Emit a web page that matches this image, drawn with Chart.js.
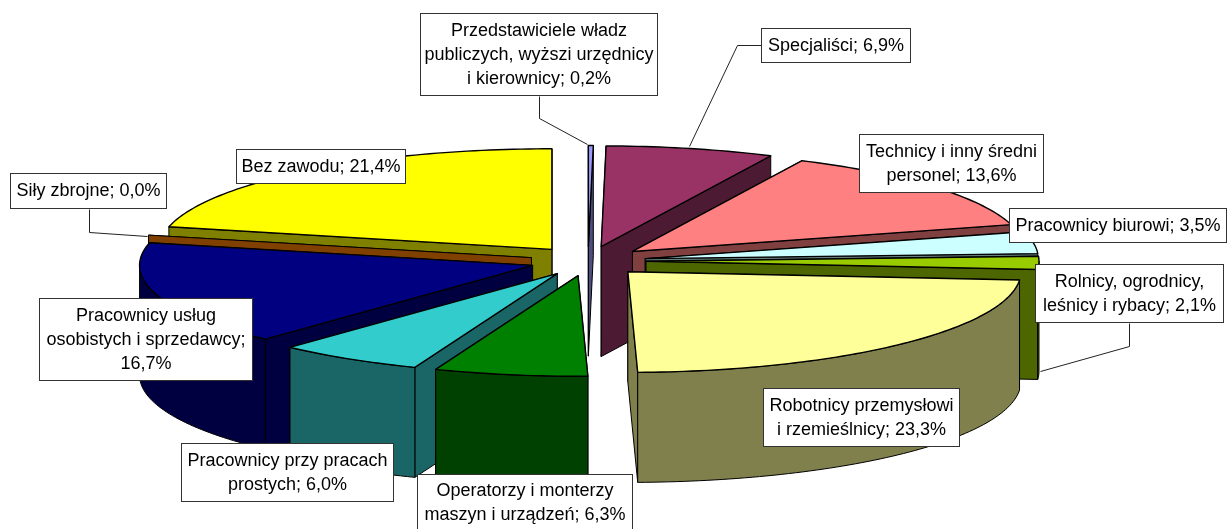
<!DOCTYPE html>
<html><head><meta charset="utf-8">
<style>html,body{margin:0;padding:0;background:#fff;overflow:hidden}canvas{display:block}</style>
<script src="https://cdn.jsdelivr.net/npm/chart.js@4/dist/chart.umd.min.js"></script>
</head><body>
<canvas id="c" width="1227" height="529"></canvas>
<script>
const categories = ["Przedstawiciele władz publicznych, wyżsi urzędnicy i kierownicy","Specjaliści","Technicy i inny średni personel","Pracownicy biurowi","Rolnicy, ogrodnicy, leśnicy i rybacy","Robotnicy przemysłowi i rzemieślnicy","Operatorzy i monterzy maszyn i urządzeń","Pracownicy przy pracach prostych","Pracownicy usług osobistych i sprzedawcy","Siły zbrojne","Bez zawodu"];
const values = [0.2,6.9,13.6,3.5,2.1,23.3,6.3,6.0,16.7,0.0,21.4];
const topColors = ["#9999FF","#993366","#FF8080","#CCFFFF","#99CC00","#FFFF99","#008000","#33CCCC","#000080","#FF8000","#FFFF00"];
const wallColors = ["#4D4D80","#4D1A33","#804040","#668080","#4D6600","#80804D","#004000","#1A6666","#000040","#804000","#808000"];
const labelLines = [
 ["Przedstawiciele władz","publiczych, wyższi urzędnicy","i kierownicy; 0,2%"],
 ["Specjaliści; 6,9%"],
 ["Technicy i inny średni","personel; 13,6%"],
 ["Pracownicy biurowi; 3,5%"],
 ["Rolnicy, ogrodnicy,","leśnicy i rybacy; 2,1%"],
 ["Robotnicy przemysłowi","i rzemieślnicy; 23,3%"],
 ["Operatorzy i monterzy","maszyn i urządzeń; 6,3%"],
 ["Pracownicy przy pracach","prostych; 6,0%"],
 ["Pracownicy usług","osobistych i sprzedawcy;","16,7%"],
 ["Siły zbrojne; 0,0%"],
 ["Bez zawodu; 21,4%"]
];
// label box: left, top, right, bottom
const labelBoxes = [[420,13,658,96],[761,28,911,63],[859,134,1044,193],[1009,208,1227,243],[1035,264,1224,323],[763,388,960,447],[417,474,633,532],[181,443,394,502],[39,298,253,381],[10,173,167,209],[236,149,406,184]];
const leaders = [[[539,96],[539,118],[587,144]],[[761,45],[737,45],[689,146]],[[1129,323],[1129,346],[1040,371]],[[89,209],[89,232],[147,236]]];
const SQUASH = 0.256, DEPTH = 110, RADIUS = 393, EXPLODE = 58;

function centre(chart){const c=chart.chartArea;return [(c.left+c.right)/2,(c.top+c.bottom)/2];}
function geom(chart,arc){
  const [cx,cy]=centre(chart);
  const mid=(arc.startAngle+arc.endAngle)/2;
  const ax = arc.x, ay = cy+(arc.y-cy)*SQUASH, R = arc.outerRadius;
  return {mid, ax, ay, pt:a=>[ax+R*Math.cos(a), ay+R*SQUASH*Math.sin(a)]};
}
function poly(ctx,pts,fill){
  ctx.beginPath();pts.forEach((p,i)=>i?ctx.lineTo(p[0],p[1]):ctx.moveTo(p[0],p[1]));ctx.closePath();
  if(fill){ctx.fillStyle=fill;ctx.fill();}
  ctx.stroke();
}
function arcPts(g,s,e){const n=Math.max(2,Math.ceil((e-s)/0.02));const r=[];for(let i=0;i<=n;i++)r.push(g.pt(s+(e-s)*i/n));return r;}
const pie3d = {
  id:'pie3d',
  afterDatasetsUpdate(chart){
    // explode each slice by moving its arc element along its own mid-angle
    chart.getDatasetMeta(0).data.forEach(a=>{
      const m=(a.startAngle+a.endAngle)/2;
      a.x+=Math.cos(m)*EXPLODE; a.y+=Math.sin(m)*EXPLODE;
    });
  },
  beforeDatasetsDraw(chart){
    const ctx=chart.ctx, arcs=chart.getDatasetMeta(0).data;
    ctx.save();ctx.lineWidth=1;ctx.strokeStyle='#000';ctx.lineJoin='round';
    const order=arcs.map((a,i)=>i).sort((i,j)=>Math.sin(geom(chart,arcs[i]).mid)-Math.sin(geom(chart,arcs[j]).mid));
    order.forEach(i=>{
      const a=arcs[i], g=geom(chart,a), c=wallColors[i];
      [a.startAngle,a.endAngle].sort((p,q)=>g.pt(p)[1]-g.pt(q)[1]).forEach(t=>{
        const p=g.pt(t);
        poly(ctx,[[g.ax,g.ay],p,[p[0],p[1]+DEPTH],[g.ax,g.ay+DEPTH]],c);
      });
      // outer wall: the front half of the rim only
      for(let k=0;k<2;k++){
        const lo=k*2*Math.PI, s=Math.max(a.startAngle,lo), e=Math.min(a.endAngle,lo+Math.PI);
        if(e>s){
          const t=arcPts(g,s,e);
          poly(ctx,t.concat(t.slice().reverse().map(p=>[p[0],p[1]+DEPTH])),c);
        }
      }
    });
    ctx.restore();
    // squash the library's own arcs about the pie centre
    const [cx,cy]=centre(chart);
    ctx.save();ctx.translate(cx,cy);ctx.scale(1,SQUASH);ctx.translate(-cx,-cy);
  },
  afterDatasetsDraw(chart){
    const ctx=chart.ctx, arcs=chart.getDatasetMeta(0).data;
    ctx.restore();
    ctx.save();ctx.lineWidth=1.4;ctx.strokeStyle='#000';ctx.lineJoin='round';
    arcs.forEach(a=>{
      if(a.endAngle<=a.startAngle) return;
      const g=geom(chart,a);
      poly(ctx,[[g.ax,g.ay]].concat(arcPts(g,a.startAngle,a.endAngle)));
    });
    ctx.restore();
  },
  afterDraw(chart){
    const ctx=chart.ctx;
    ctx.save();
    ctx.lineWidth=1;ctx.strokeStyle='#222';
    leaders.forEach(l=>{ctx.beginPath();l.forEach((p,i)=>i?ctx.lineTo(p[0]+.5,p[1]+.5):ctx.moveTo(p[0]+.5,p[1]+.5));ctx.stroke();});
    ctx.font='18px "Liberation Sans"';ctx.textAlign='center';ctx.textBaseline='middle';
    labelBoxes.forEach((b,i)=>{
      ctx.fillStyle='#fff';ctx.strokeStyle='#333';
      ctx.fillRect(b[0],b[1],b[2]-b[0],b[3]-b[1]);
      ctx.strokeRect(b[0]+.5,b[1]+.5,b[2]-b[0]-1,b[3]-b[1]-1);
      const lines=labelLines[i], cx=(b[0]+b[2])/2, cy=(b[1]+b[3])/2, lh=24;
      ctx.fillStyle='#000';
      lines.forEach((t,k)=>ctx.fillText(t,cx,cy+(k-(lines.length-1)/2)*lh+.5));
    });
    ctx.restore();
  }
};
new Chart(document.getElementById('c'),{
  type:'pie',
  data:{labels:categories,datasets:[{data:values,backgroundColor:topColors,borderWidth:0,radius:RADIUS,clip:false}]},
  options:{responsive:false,animation:false,rotation:0,
    layout:{padding:{left:0,top:0,right:51,bottom:7}},
    plugins:{legend:{display:false},tooltip:{enabled:false}}},
  plugins:[pie3d]
});
</script>
</body></html>
